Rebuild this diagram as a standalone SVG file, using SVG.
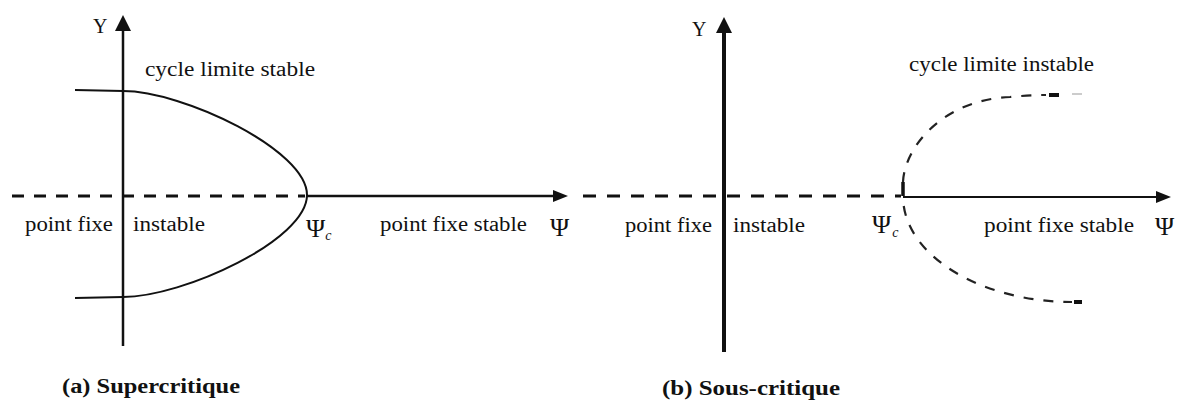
<svg xmlns="http://www.w3.org/2000/svg" width="1179" height="400" viewBox="0 0 1179 400">
<style>
text{font-family:"Liberation Serif","Times New Roman",serif;font-size:20px;fill:#111}
.cap{font-weight:bold;font-size:20px}
.psi{font-size:26px}
.sub{font-style:italic;font-size:14px}
.axis{stroke:#111;fill:none}
.dash-a{stroke:#111;stroke-width:3;stroke-dasharray:12 10;fill:none}
.dash-b{stroke:#111;stroke-width:3;stroke-dasharray:13 11;fill:none}
.curve{stroke:#111;stroke-width:2;fill:none}
.dcurve{stroke:#222;stroke-width:2.2;stroke-dasharray:10 10;fill:none}
</style>
<defs>
<marker id="arrY" markerUnits="userSpaceOnUse" viewBox="0 0 16 16" refX="0" refY="8" markerWidth="16" markerHeight="16" orient="auto"><path d="M0,0 L16,8 L0,16 z" fill="#111"/></marker>
<marker id="arrX" markerUnits="userSpaceOnUse" viewBox="0 0 15 12" refX="0" refY="6" markerWidth="15" markerHeight="12" orient="auto"><path d="M0,0 L15,6 L0,12 z" fill="#111"/></marker>
</defs>

<g id="connectors">
<line class="axis" x1="123" y1="346" x2="123" y2="31" stroke-width="2.5" marker-end="url(#arrY)"/>
<line class="dash-a" x1="12" y1="196" x2="305" y2="196"/>
<line class="axis" x1="306" y1="196" x2="553" y2="196" stroke-width="2.5" marker-end="url(#arrX)"/>
<line class="axis" x1="724" y1="352" x2="724" y2="33" stroke-width="4" marker-end="url(#arrY)"/>
<line class="dash-b" x1="583" y1="196" x2="901" y2="196"/>
<line class="axis" x1="903" y1="197" x2="1156" y2="197" stroke-width="2" marker-end="url(#arrX)"/>
</g>

<g id="curve-a">
<path class="curve" d="M75,90 L123,91 C183,91 307,150 307,195 C307,240 183,297 123,297 L75,298"/>
</g>

<g id="curve-b">
<line x1="903" y1="182" x2="903" y2="196" stroke="#111" stroke-width="3.5"/>
<path class="dcurve" d="M903,182 C904,150 940,100 1010,97 C1030,95 1040,95 1046,95"/>
<line x1="1049" y1="95" x2="1059" y2="95" stroke="#111" stroke-width="4"/>
<line x1="1072" y1="94" x2="1082" y2="94" stroke="#bbb" stroke-width="1.5"/>
<path class="dcurve" stroke-dashoffset="-10" d="M903,196 C903,256 982,302 1072,302"/>
<line x1="1074" y1="302" x2="1082" y2="302" stroke="#111" stroke-width="4"/>
</g>

<g id="labels-a">
<text x="93" y="33">Y</text>
<text x="145" y="76" textLength="170" lengthAdjust="spacingAndGlyphs">cycle limite stable</text>
<text x="25" y="231" textLength="88" lengthAdjust="spacingAndGlyphs">point fixe</text>
<text x="133" y="231" textLength="72" lengthAdjust="spacingAndGlyphs">instable</text>
<text class="psi" x="306" y="237">Ψ<tspan class="sub" dx="0" dy="3">c</tspan></text>
<text x="380" y="231" textLength="147" lengthAdjust="spacingAndGlyphs">point fixe stable</text>
<text class="psi" x="550" y="236">Ψ</text>
<text class="cap" x="62" y="393" textLength="178" lengthAdjust="spacingAndGlyphs">(a) Supercritique</text>
</g>

<g id="labels-b">
<text x="692" y="36">Y</text>
<text x="909" y="71" textLength="185" lengthAdjust="spacingAndGlyphs">cycle limite instable</text>
<text x="625" y="232" textLength="87" lengthAdjust="spacingAndGlyphs">point fixe</text>
<text x="733" y="232" textLength="72" lengthAdjust="spacingAndGlyphs">instable</text>
<text class="psi" x="872" y="233">Ψ<tspan class="sub" dx="1" dy="4">c</tspan></text>
<text x="984" y="232" textLength="150" lengthAdjust="spacingAndGlyphs">point fixe stable</text>
<text class="psi" x="1155" y="235">Ψ</text>
<text class="cap" x="662" y="395" textLength="178" lengthAdjust="spacingAndGlyphs">(b) Sous-critique</text>
</g>
</svg>
